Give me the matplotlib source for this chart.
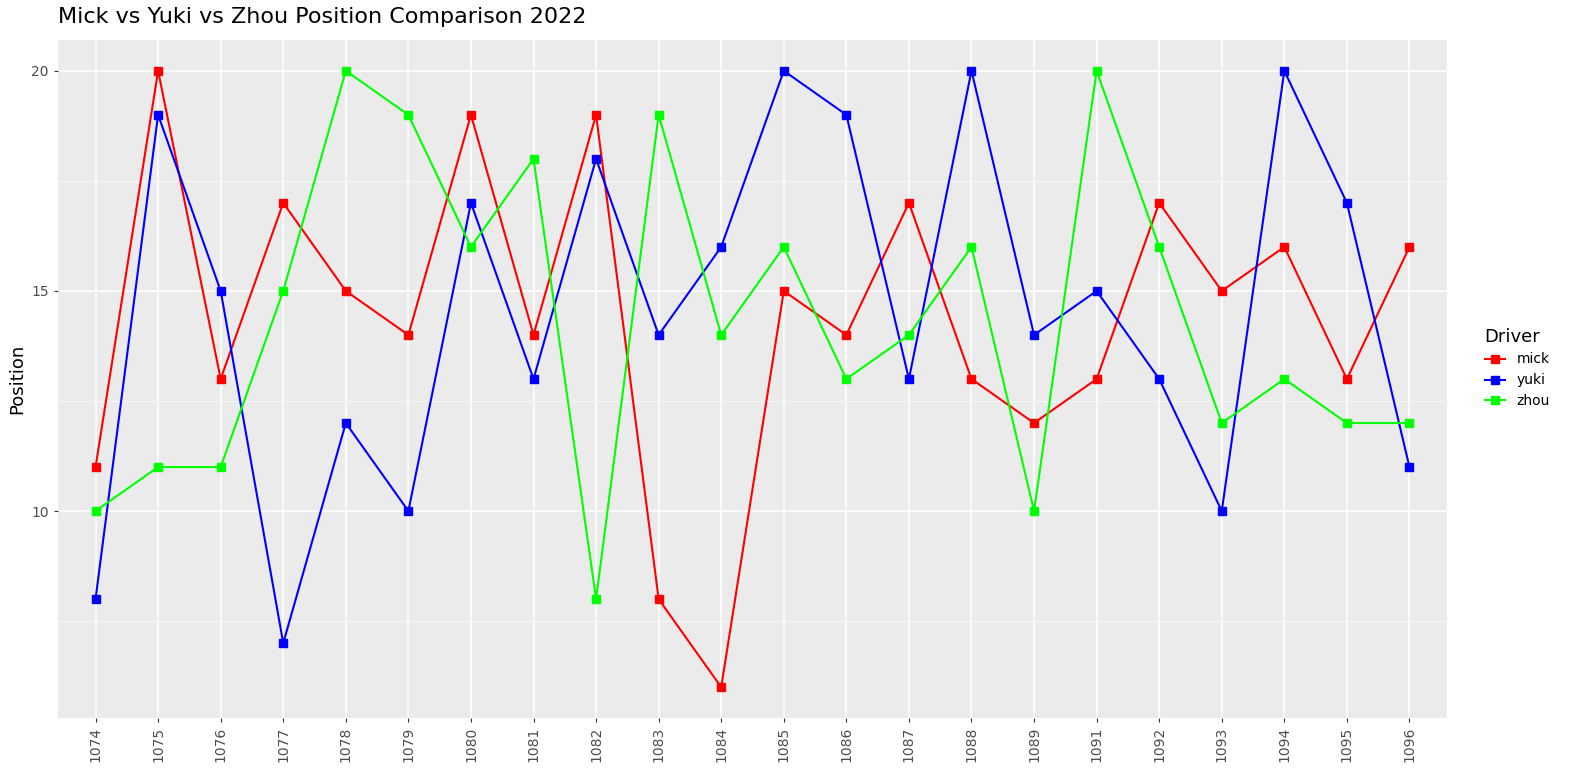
import matplotlib
matplotlib.use("Agg")
import matplotlib.pyplot as plt
from matplotlib.lines import Line2D

races = ["1074","1075","1076","1077","1078","1079","1080","1081","1082","1083","1084",
         "1085","1086","1087","1088","1089","1091","1092","1093","1094","1095","1096"]
mick = [11,20,13,17,15,14,19,14,19,8,6,15,14,17,13,12,13,17,15,16,13,16]
yuki = [8,19,15,7,12,10,17,13,18,14,16,20,19,13,20,14,15,13,10,20,17,11]
zhou = [10,11,11,15,20,19,16,18,8,19,14,16,13,14,16,10,20,16,12,13,12,12]

fig = plt.figure(figsize=(15.89,7.81), dpi=100)
ax = fig.add_axes([58/1589, 1-718/781, (1447-58)/1589, (718-40)/781])
ax.set_facecolor("#EBEBEB")
x = list(range(len(races)))
for vals, c, n in [(mick,"#FF0000","mick"),(yuki,"#0000FF","yuki"),(zhou,"#00FF00","zhou")]:
    ax.plot(x, vals, color=c, lw=1.5, marker="s", ms=6, label=n)
ax.set_xlim(-0.6, len(races)-0.4)
ax.set_ylim(5.3, 20.7)
ax.set_xticks(x)
ax.set_xticklabels(races, rotation=90)
ax.set_yticks([10,15,20])
ax.set_yticks([7.5,12.5,17.5], minor=True)
ax.grid(True, which="major", color="white", lw=1.1)
ax.grid(True, which="minor", axis="y", color="white", lw=0.5)
ax.set_axisbelow(True)
for s in ax.spines.values(): s.set_visible(False)
ax.tick_params(which="both", length=3, color="#333333", labelsize=10, labelcolor="#4D4D4D")
ax.tick_params(which="minor", length=0)
ax.set_ylabel("Position", fontsize=13)
fig.text(58/1589, 1-17/781, "Mick vs Yuki vs Zhou Position Comparison 2022", fontsize=16, va="center")
handles = [Line2D([],[],color=c,marker="s",ms=6,lw=1.5) for c in ["#FF0000","#0000FF","#00FF00"]]
leg = fig.legend(handles, ["mick","yuki","zhou"], title="Driver", loc="upper left",
                 bbox_to_anchor=(1472/1589, 1-315/781), frameon=False, fontsize=10,
                 title_fontsize=13, handlelength=1.5)
leg._legend_box.align = "left"
fig.savefig("out.png", dpi=100)
